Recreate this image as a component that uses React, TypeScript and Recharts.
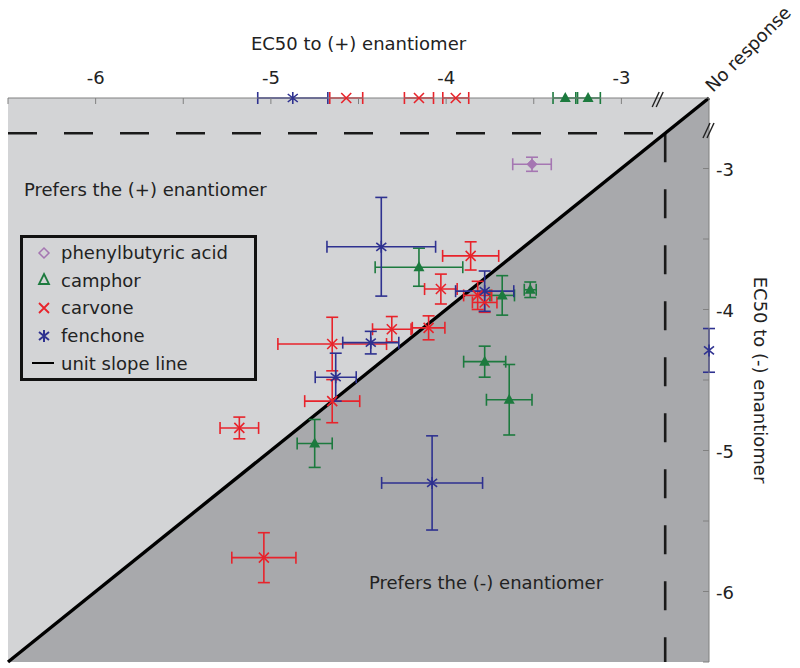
import React from 'react';
import {
  ScatterChart,
  Scatter,
  XAxis,
  YAxis,
  ErrorBar,
  ReferenceArea,
  ReferenceLine,
  ReferenceDot,
} from 'recharts';

// both axes: log EC50, -6.5 .. -2.5 ("No response" sits at -2.5)
const AXIS_MIN = -6.5;
const NO_RESPONSE = -2.5;
const CUTOFF = -2.75;
const X_TICKS = [-6.5, -6, -5.5, -5, -4.5, -4, -3.5, -3];
const Y_TICKS = [-6.5, -6, -5.5, -5, -4.5, -4, -3.5, -3];

// x = EC50 to (+), y = EC50 to (-), ex / ey = half error
const phenylbutyric = [{ x: -3.51, y: -2.97, ex: 0.11, ey: 0.05 }];

const camphor = [
  { x: -4.155, y: -3.7, ex: 0.25, ey: 0.135 },
  { x: -3.68, y: -3.9, ex: 0.07, ey: 0.14 },
  { x: -3.52, y: -3.86, ex: 0.034, ey: 0.055 },
  { x: -3.78, y: -4.37, ex: 0.12, ey: 0.11 },
  { x: -3.64, y: -4.64, ex: 0.13, ey: 0.25 },
  { x: -4.75, y: -4.95, ex: 0.1, ey: 0.17 },
];

const carvone = [
  { x: -3.86, y: -3.62, ex: 0.16, ey: 0.1 },
  { x: -4.03, y: -3.855, ex: 0.093, ey: 0.106 },
  { x: -3.82, y: -3.9, ex: 0.08, ey: 0.1 },
  { x: -3.78, y: -3.95, ex: 0.07, ey: 0.07 },
  { x: -4.65, y: -4.245, ex: 0.31, ey: 0.19 },
  { x: -4.65, y: -4.65, ex: 0.157, ey: 0.153 },
  { x: -4.31, y: -4.14, ex: 0.11, ey: 0.09 },
  { x: -4.1, y: -4.13, ex: 0.093, ey: 0.085 },
  { x: -5.18, y: -4.84, ex: 0.11, ey: 0.077 },
  { x: -5.04, y: -5.76, ex: 0.183, ey: 0.177 },
];

const fenchone = [
  { x: -4.37, y: -3.555, ex: 0.31, ey: 0.35 },
  { x: -3.78, y: -3.87, ex: 0.166, ey: 0.143 },
  { x: -4.63, y: -4.48, ex: 0.117, ey: 0.17 },
  { x: -4.43, y: -4.235, ex: 0.16, ey: 0.08 },
  { x: -4.08, y: -5.23, ex: 0.288, ey: 0.334 },
];

// no response to the (-) enantiomer -> drawn on the top edge
const camphorNoMinus = [
  { x: -3.32, ex: 0.07 },
  { x: -3.19, ex: 0.07 },
];
const carvoneNoMinus = [
  { x: -4.57, ex: 0.094 },
  { x: -4.155, ex: 0.083 },
  { x: -3.945, ex: 0.074 },
];
const fenchoneNoMinus = [{ x: -4.875, ex: 0.2 }];

// no response to the (+) enantiomer -> drawn on the right edge
const fenchoneNoPlus = [{ y: -4.29, ey: 0.155 }];

const LIGHT = '#d3d4d6';
const DARK = '#a8a9ac';
const PURPLE = '#a576b2';
const GREEN = '#1c7a3e';
const RED = '#e8232b';
const BLUE = '#2e3190';
const AXIS_GRAY = '#808080';
const FONT = '"DejaVu Sans", sans-serif';

const onTop = (rows: { x: number; ex: number }[]) => rows.map(r => ({ ...r, y: NO_RESPONSE }));
const onRight = (rows: { y: number; ey: number }[]) => rows.map(r => ({ ...r, x: NO_RESPONSE }));

const Diamond = (p: any) => (
  <path
    d={`M${p.cx},${p.cy - 5}L${p.cx + 5},${p.cy}L${p.cx},${p.cy + 5}L${p.cx - 5},${p.cy}Z`}
    fill={PURPLE}
    stroke={PURPLE}
  />
);

const Triangle = (p: any) => (
  <path
    d={`M${p.cx},${p.cy - 6}L${p.cx + 5.5},${p.cy + 4}L${p.cx - 5.5},${p.cy + 4}Z`}
    fill={GREEN}
  />
);

const Cross = (p: any) => (
  <path
    d={`M${p.cx - 5},${p.cy - 5}L${p.cx + 5},${p.cy + 5}M${p.cx - 5},${p.cy + 5}L${p.cx + 5},${p.cy - 5}`}
    stroke={RED}
    strokeWidth={1.6}
  />
);

const Star = (p: any) => (
  <path
    d={`M${p.cx - 5},${p.cy - 4}L${p.cx + 5},${p.cy + 4}M${p.cx - 5},${p.cy + 4}L${p.cx + 5},${p.cy - 4}M${p.cx},${p.cy - 6}L${p.cx},${p.cy + 6}`}
    stroke={BLUE}
    strokeWidth={1.6}
  />
);

const LowerTriangle = (p: any) => (
  <path
    d={`M${p.x},${p.y + p.height}L${p.x + p.width},${p.y}L${p.x + p.width},${p.y + p.height}Z`}
    fill={DARK}
  />
);

const TopTick = (p: any) => (
  <g>
    <line x1={p.x} y1={p.y} x2={p.x} y2={p.y + 6} stroke={AXIS_GRAY} />
    {Number.isInteger(p.payload.value) && (
      <text x={p.x} y={p.y - 14} textAnchor="middle" fontSize={18} fontFamily={FONT} fill="#222">
        {String(p.payload.value)}
      </text>
    )}
  </g>
);

const RightTick = (p: any) => (
  <g>
    <line x1={p.x} y1={p.y} x2={p.x - 6} y2={p.y} stroke={AXIS_GRAY} />
    {Number.isInteger(p.payload.value) && (
      <text x={p.x + 7} y={p.y + 7} textAnchor="start" fontSize={18} fontFamily={FONT} fill="#222">
        {String(p.payload.value)}
      </text>
    )}
  </g>
);

const TopTitle = (p: any) => {
  const vb = p.viewBox;
  return (
    <text x={vb.x + vb.width / 2} y={vb.y + 22} textAnchor="middle" fontSize={18} fontFamily={FONT} fill="#222">
      EC50 to (+) enantiomer
    </text>
  );
};

const RightTitle = (p: any) => {
  const vb = p.viewBox;
  const x = vb.x + 45;
  const y = vb.y + vb.height / 2;
  return (
    <text x={x} y={y} textAnchor="middle" fontSize={18} fontFamily={FONT} fill="#222" transform={`rotate(90 ${x} ${y})`}>
      EC50 to (-) enantiomer
    </text>
  );
};

const NoResponse = (p: any) => (
  <text
    x={p.cx + 4}
    y={p.cy - 5}
    fontSize={18}
    fontFamily={FONT}
    fill="#222"
    transform={`rotate(-45 ${p.cx + 4} ${p.cy - 5})`}
  >
    No response
  </text>
);

const BreakTop = (p: any) => (
  <g stroke="#222" strokeWidth={1.4}>
    <line x1={p.cx - 6} y1={p.cy + 9} x2={p.cx + 1} y2={p.cy - 6} />
    <line x1={p.cx - 2} y1={p.cy + 9} x2={p.cx + 5} y2={p.cy - 6} />
  </g>
);

const LEGEND_ITEMS = [
  { label: 'phenylbutyric acid', icon: 'diamond' },
  { label: 'camphor', icon: 'triangle' },
  { label: 'carvone', icon: 'cross' },
  { label: 'fenchone', icon: 'star' },
  { label: 'unit slope line', icon: 'line' },
];

const LegendIcon = ({ icon }: { icon: string }) => (
  <svg width={24} height={20} style={{ display: 'block' }}>
    {icon === 'diamond' && <path d="M12,5L17,10L12,15L7,10Z" fill="none" stroke={PURPLE} strokeWidth={1.5} />}
    {icon === 'triangle' && <path d="M12,4L17,14L7,14Z" fill="none" stroke={GREEN} strokeWidth={1.8} />}
    {icon === 'cross' && <path d="M7,5L17,15M7,15L17,5" stroke={RED} strokeWidth={1.8} />}
    {icon === 'star' && <path d="M7,6L17,14M7,14L17,6M12,4L12,16" stroke={BLUE} strokeWidth={2} />}
    {icon === 'line' && <line x1={0} y1={10} x2={22} y2={10} stroke="#000" strokeWidth={2} />}
  </svg>
);

const LegendBox = () => (
  <div
    style={{
      position: 'absolute',
      left: 20,
      top: 235,
      width: 237,
      height: 146,
      boxSizing: 'border-box',
      border: '3px solid #111',
      paddingTop: 1,
      fontFamily: FONT,
      fontSize: 18,
      color: '#222',
    }}
  >
    {LEGEND_ITEMS.map(it => (
      <div key={it.label} style={{ display: 'flex', alignItems: 'center', height: 27.6 }}>
        <div style={{ width: 34, display: 'flex', justifyContent: 'center', paddingLeft: 4 }}>
          <LegendIcon icon={it.icon} />
        </div>
        <span>{it.label}</span>
      </div>
    ))}
  </div>
);

const errX = (color: string) => (
  <ErrorBar dataKey="ex" direction="x" width={6} stroke={color} strokeWidth={1.6} isAnimationActive={false} />
);
const errY = (color: string) => (
  <ErrorBar dataKey="ey" direction="y" width={6} stroke={color} strokeWidth={1.6} isAnimationActive={false} />
);

export default function App() {
  return (
    <div style={{ position: 'absolute', left: 0, top: 0, width: 800, height: 668, background: '#fff' }}>
      <ScatterChart width={800} height={668} margin={{ top: 28, right: 21, bottom: 6, left: 8 }}>
        <XAxis
          type="number"
          dataKey="x"
          orientation="top"
          domain={[AXIS_MIN, NO_RESPONSE]}
          ticks={X_TICKS}
          interval={0}
          height={70}
          stroke={AXIS_GRAY}
          tickLine={false}
          tickSize={0}
          tickMargin={0}
          tick={TopTick}
          label={{ content: TopTitle }}
        />
        <YAxis
          type="number"
          dataKey="y"
          orientation="right"
          domain={[AXIS_MIN, NO_RESPONSE]}
          ticks={Y_TICKS}
          interval={0}
          width={70}
          stroke={AXIS_GRAY}
          tickLine={false}
          tickSize={0}
          tickMargin={0}
          tick={RightTick}
          label={{ content: RightTitle }}
        />

        <ReferenceArea x1={AXIS_MIN} x2={NO_RESPONSE} y1={AXIS_MIN} y2={NO_RESPONSE} fill={LIGHT} fillOpacity={1} stroke="none" />
        <ReferenceArea
          x1={AXIS_MIN}
          x2={NO_RESPONSE}
          y1={AXIS_MIN}
          y2={NO_RESPONSE}
          shape={LowerTriangle}
        />
        <ReferenceLine
          segment={[{ x: AXIS_MIN, y: CUTOFF }, { x: CUTOFF, y: CUTOFF }]}
          stroke="#1a1a1a"
          strokeWidth={2.6}
          strokeDasharray="29 27"
        />
        <ReferenceLine
          segment={[{ x: CUTOFF, y: CUTOFF }, { x: CUTOFF, y: AXIS_MIN }]}
          stroke="#1a1a1a"
          strokeWidth={2.6}
          strokeDasharray="29 27"
        />
        <ReferenceLine
          segment={[{ x: AXIS_MIN, y: AXIS_MIN }, { x: NO_RESPONSE, y: NO_RESPONSE }]}
          stroke="#000"
          strokeWidth={3.4}
        />

        <Scatter name="phenylbutyric acid" data={phenylbutyric} shape={Diamond} isAnimationActive={false}>
          {errX(PURPLE)}
          {errY(PURPLE)}
        </Scatter>
        <Scatter name="camphor" data={camphor} shape={Triangle} isAnimationActive={false}>
          {errX(GREEN)}
          {errY(GREEN)}
        </Scatter>
        <Scatter name="carvone" data={carvone} shape={Cross} isAnimationActive={false}>
          {errX(RED)}
          {errY(RED)}
        </Scatter>
        <Scatter name="fenchone" data={fenchone} shape={Star} isAnimationActive={false}>
          {errX(BLUE)}
          {errY(BLUE)}
        </Scatter>
        <Scatter name="camphor nr" data={onTop(camphorNoMinus)} shape={Triangle} isAnimationActive={false}>
          {errX(GREEN)}
        </Scatter>
        <Scatter name="carvone nr" data={onTop(carvoneNoMinus)} shape={Cross} isAnimationActive={false}>
          {errX(RED)}
        </Scatter>
        <Scatter name="fenchone nr" data={onTop(fenchoneNoMinus)} shape={Star} isAnimationActive={false}>
          {errX(BLUE)}
        </Scatter>
        <Scatter name="fenchone nr+" data={onRight(fenchoneNoPlus)} shape={Star} isAnimationActive={false}>
          {errY(BLUE)}
        </Scatter>

        <ReferenceDot x={-2.79} y={NO_RESPONSE} r={0} shape={BreakTop} />
        <ReferenceDot x={NO_RESPONSE} y={-2.72} r={0} shape={BreakTop} />
        <ReferenceDot x={NO_RESPONSE} y={NO_RESPONSE} r={0} shape={NoResponse} />
      </ScatterChart>

      <LegendBox />
      <div style={{ position: 'absolute', left: 24, top: 179, fontFamily: FONT, fontSize: 18, color: '#222', whiteSpace: 'nowrap' }}>
        Prefers the (+) enantiomer
      </div>
      <div style={{ position: 'absolute', left: 369, top: 572, fontFamily: FONT, fontSize: 18, color: '#222', whiteSpace: 'nowrap' }}>
        Prefers the (-) enantiomer
      </div>
    </div>
  );
}
